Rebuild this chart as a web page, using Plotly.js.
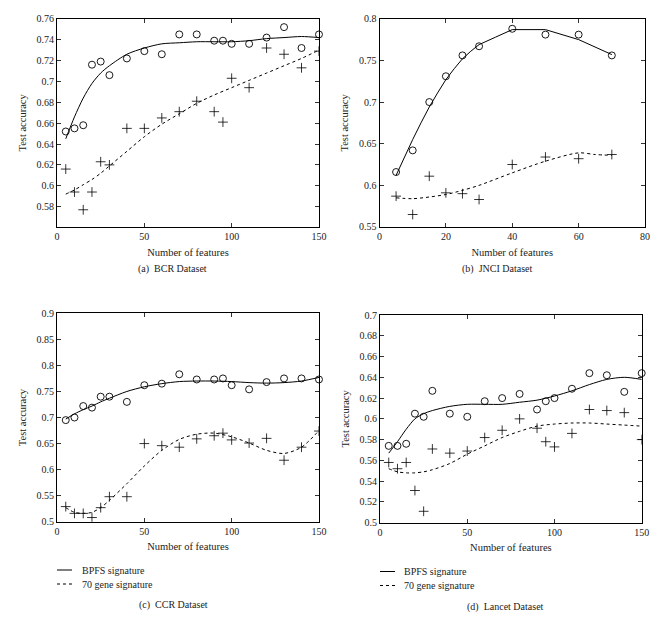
<!DOCTYPE html>
<html>
<head>
<meta charset="utf-8">
<script src="https://cdn.plot.ly/plotly-3.0.1.min.js"></script>
<style>
  html, body { margin: 0; padding: 0; background: #fff; }
  #chart { width: 660px; height: 626px; }
</style>
</head>
<body>
<div id="chart"></div>
<script>
// Données (précision de test vs nombre de gènes)
const featLong = [5, 10, 15, 20, 25, 30, 40, 50, 60, 70, 80, 90, 95, 100, 110, 120, 130, 140, 150];
const featJnci = [5, 10, 15, 20, 25, 30, 40, 50, 60, 70];

// (a) BCR
const bcrBpfs = [0.652, 0.655, 0.658, 0.716, 0.719, 0.706, 0.722, 0.729, 0.726, 0.745, 0.745, 0.739, 0.739, 0.736, 0.736, 0.742, 0.752, 0.732, 0.745];
const bcrGene = [0.616, 0.594, 0.577, 0.594, 0.623, 0.620, 0.655, 0.655, 0.665, 0.671, 0.681, 0.671, 0.661, 0.703, 0.694, 0.732, 0.726, 0.713, 0.729];
const bcrFitX = [5, 10, 15, 20, 25, 30, 40, 50, 60, 70, 80, 90, 100, 110, 120, 130, 140, 150];
const bcrFitBpfs = [0.645, 0.666, 0.684, 0.698, 0.708, 0.715, 0.726, 0.732, 0.736, 0.737, 0.738, 0.738, 0.738, 0.739, 0.741, 0.742, 0.743, 0.742];
const bcrFitGene = [0.592, 0.596, 0.601, 0.606, 0.612, 0.619, 0.633, 0.647, 0.659, 0.669, 0.679, 0.687, 0.694, 0.701, 0.708, 0.715, 0.722, 0.730];

// (b) JNCI
const jnciBpfs = [0.616, 0.642, 0.700, 0.731, 0.756, 0.767, 0.788, 0.781, 0.781, 0.756];
const jnciGene = [0.587, 0.565, 0.611, 0.591, 0.590, 0.583, 0.625, 0.634, 0.632, 0.637];
const jnciFitX = [5, 7.5, 10, 12.5, 15, 17.5, 20, 22.5, 25, 27.5, 30, 35, 40, 50, 60, 70];
const jnciFitBpfs = [0.612, 0.634, 0.655, 0.675, 0.694, 0.711, 0.727, 0.740, 0.752, 0.761, 0.769, 0.778, 0.787, 0.787, 0.775, 0.757];
const jnciFitGeneX = [5, 10, 15, 20, 25, 30, 40, 50, 60, 65, 70];
const jnciFitGene = [0.585, 0.584, 0.586, 0.589, 0.594, 0.600, 0.615, 0.629, 0.639, 0.637, 0.636];

// (c) CCR
const ccrBpfs = [0.695, 0.700, 0.722, 0.719, 0.740, 0.740, 0.730, 0.762, 0.765, 0.783, 0.773, 0.773, 0.775, 0.762, 0.754, 0.768, 0.775, 0.775, 0.773];
const ccrGene = [0.529, 0.516, 0.516, 0.508, 0.527, 0.548, 0.548, 0.650, 0.646, 0.643, 0.659, 0.665, 0.670, 0.657, 0.651, 0.660, 0.618, 0.643, 0.674];
const ccrFitX = [5, 10, 15, 20, 25, 30, 40, 50, 60, 70, 80, 90, 100, 110, 120, 130, 140, 150];
const ccrFitBpfs = [0.697, 0.707, 0.715, 0.722, 0.730, 0.737, 0.750, 0.759, 0.765, 0.769, 0.770, 0.770, 0.769, 0.767, 0.766, 0.767, 0.770, 0.777];
const ccrFitGene = [0.527, 0.518, 0.516, 0.518, 0.527, 0.541, 0.573, 0.607, 0.637, 0.658, 0.668, 0.670, 0.663, 0.651, 0.637, 0.631, 0.643, 0.675];

// (d) Lancet
const lancetBpfs = [0.574, 0.574, 0.576, 0.605, 0.602, 0.627, 0.605, 0.602, 0.617, 0.620, 0.624, 0.609, 0.617, 0.620, 0.629, 0.644, 0.642, 0.626, 0.644];
const lancetGene = [0.558, 0.552, 0.558, 0.531, 0.511, 0.571, 0.567, 0.569, 0.582, 0.589, 0.600, 0.591, 0.578, 0.573, 0.586, 0.609, 0.608, 0.606, 0.580];
const lancetFitX = [5, 10, 15, 20, 25, 30, 40, 50, 60, 70, 80, 90, 100, 110, 120, 130, 140, 150];
const lancetFitBpfs = [0.567, 0.578, 0.590, 0.600, 0.605, 0.608, 0.612, 0.614, 0.614, 0.614, 0.616, 0.618, 0.622, 0.627, 0.633, 0.638, 0.640, 0.638];
const lancetFitGene = [0.552, 0.549, 0.548, 0.548, 0.549, 0.551, 0.557, 0.566, 0.574, 0.582, 0.588, 0.593, 0.595, 0.596, 0.596, 0.595, 0.594, 0.593];

const seriesNames = ['BPFS signature', '70 gene signature'];

const FONT = 'Liberation Serif, DejaVu Serif, serif';
const INK = '#222';
const W = 660, H = 626;

// Construit les 4 traces d'un panneau (points + courbes ajustées)
function panel(n, x, bpfs, gene, fitXb, fitB, fitXg, fitG, bpfsShape) {
    const xa = n === 1 ? 'x' : 'x' + n;
    const ya = n === 1 ? 'y' : 'y' + n;
    return [
        {
            x: x, y: bpfs, xaxis: xa, yaxis: ya, type: 'scatter', mode: 'markers',
            marker: { symbol: 'circle-open', size: 7, color: '#000', line: { width: 0.9 } },
            cliponaxis: false, showlegend: false
        },
        {
            x: x, y: gene, xaxis: xa, yaxis: ya, type: 'scatter', mode: 'markers',
            marker: { symbol: 'cross-thin-open', size: 7, color: '#000', line: { width: 0.8, color: '#000' } },
            showlegend: false
        },
        {
            x: fitXb, y: fitB, xaxis: xa, yaxis: ya, type: 'scatter', mode: 'lines',
            name: seriesNames[0], showlegend: false,
            line: bpfsShape === 'linear'
                ? { color: '#000', width: 1, shape: 'linear' }
                : { color: '#000', width: 1, shape: 'spline', smoothing: 0.8 }
        },
        {
            x: fitXg, y: fitG, xaxis: xa, yaxis: ya, type: 'scatter', mode: 'lines',
            name: seriesNames[1], showlegend: false,
            line: { color: '#000', width: 1, dash: '3px,3px', shape: 'spline', smoothing: 0.8 }
        }
    ];
}

const traces = [].concat(
    panel(1, featLong, bcrBpfs, bcrGene, bcrFitX, bcrFitBpfs, bcrFitX, bcrFitGene),
    panel(2, featJnci, jnciBpfs, jnciGene, jnciFitX, jnciFitBpfs, jnciFitGeneX, jnciFitGene, 'linear'),
    panel(3, featLong, ccrBpfs, ccrGene, ccrFitX, ccrFitBpfs, ccrFitX, ccrFitGene),
    panel(4, featLong, lancetBpfs, lancetGene, lancetFitX, lancetFitBpfs, lancetFitX, lancetFitGene)
);

function axis(domain, range, dtick, anchor, titleText, standoff) {
    return {
        domain: domain, range: range, dtick: dtick, tick0: 0, anchor: anchor,
        showline: true, linecolor: '#000', linewidth: 1, mirror: 'ticks',
        ticks: 'inside', ticklen: 4, tickcolor: '#000', tickwidth: 0.8,
        showgrid: false, zeroline: false, fixedrange: true,
        tickfont: { family: FONT, size: 10, color: INK },
        title: { text: titleText, standoff: standoff, font: { family: FONT, size: 10.5, color: INK } }
    };
}

const leftX = [0.0864, 0.4833];
const rightXb = [0.5750, 0.9773];
const rightXd = [0.5758, 0.9723];
const topY = [0.6374, 0.9700];
const botYc = [0.1666, 0.4995];
const botYd = [0.1650, 0.4968];

function caption(text, px, py) {
    return {
        text: text, x: px / W, y: 1 - py / H, xref: 'paper', yref: 'paper', showarrow: false,
        xanchor: 'center', yanchor: 'middle',
        font: { family: FONT, size: 10, color: INK }
    };
}

// Légende dessinée à la main (échantillon de trait + libellé), en pixels
function legendBlock(lx, ly, tx) {
    const shapes = [], notes = [];
    [0, 1].forEach(i => {
        const y = 1 - (ly + i * 14) / H;
        shapes.push({
            type: 'line', xref: 'paper', yref: 'paper',
            x0: lx / W, x1: (lx + 15) / W, y0: y, y1: y,
            line: { color: '#000', width: 1, dash: i === 0 ? 'solid' : '3px,3px' }
        });
        notes.push({
            text: seriesNames[i], x: tx / W, y: y, xref: 'paper', yref: 'paper', showarrow: false,
            xanchor: 'left', yanchor: 'middle',
            font: { family: FONT, size: 10, color: INK }
        });
    });
    return { shapes, notes };
}

const legC = legendBlock(57, 570, 80);
const legD = legendBlock(380, 571.5, 402);

const layout = {
    width: W, height: H,
    margin: { l: 0, r: 0, t: 0, b: 0 },
    paper_bgcolor: '#fff', plot_bgcolor: '#fff',
    font: { family: FONT, color: INK },
    showlegend: false,
    xaxis: axis(leftX, [0, 150], 50, 'y', 'Number of features', 7),
    yaxis: axis(topY, [0.5605, 0.76], 0.02, 'x', 'Test accuracy'),
    xaxis2: axis(rightXb, [0, 80], 20, 'y2', 'Number of features', 7),
    yaxis2: axis(topY, [0.55, 0.8], 0.05, 'x2', 'Test accuracy'),
    xaxis3: axis(leftX, [0, 150], 50, 'y3', 'Number of features', 6),
    yaxis3: axis(botYc, [0.5, 0.9], 0.05, 'x3', 'Test accuracy'),
    xaxis4: axis(rightXd, [0, 150], 50, 'y4', 'Number of features', 6),
    yaxis4: axis(botYd, [0.5, 0.7], 0.02, 'x4', 'Test accuracy'),
    shapes: legC.shapes.concat(legD.shapes),
    annotations: [
        caption('(a)\u00a0\u00a0BCR Dataset', 172.5, 269),
        caption('(b)\u00a0\u00a0JNCI Dataset', 496.7, 268.7),
        caption('(c)\u00a0\u00a0CCR Dataset', 173.3, 605),
        caption('(d)\u00a0\u00a0Lancet Dataset', 505, 607)
    ].concat(legC.notes, legD.notes)
};

Plotly.newPlot('chart', traces, layout, { staticPlot: true, displayModeBar: false });
</script>
</body>
</html>
